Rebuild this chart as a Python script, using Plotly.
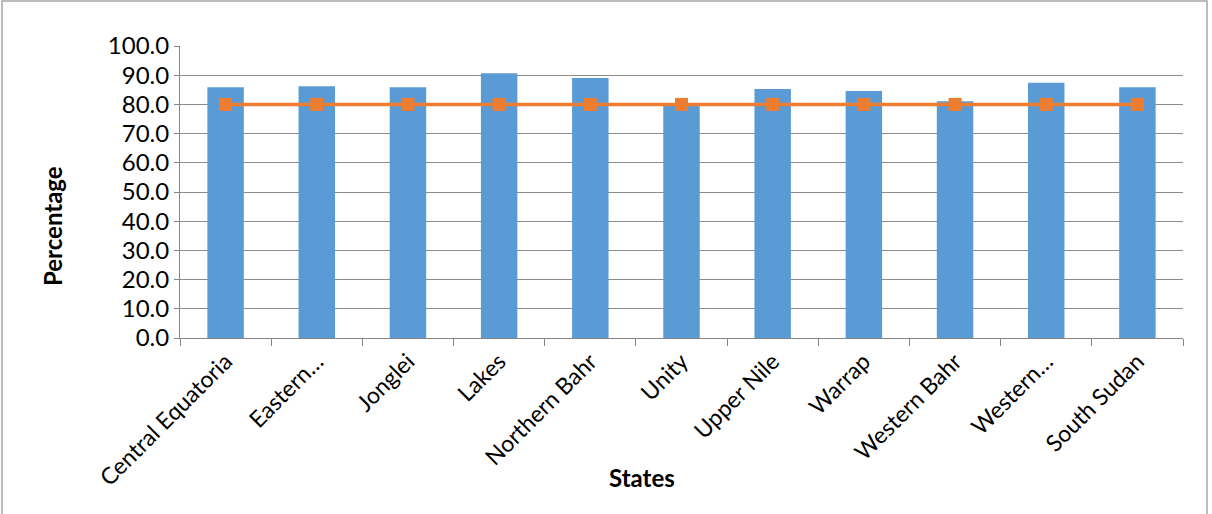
import plotly.graph_objects as go

# Share of population per state, with the 80% target line
states = ["Central Equatoria", "Eastern…", "Jonglei", "Lakes", "Northern Bahr", "Unity",
          "Upper Nile", "Warrap", "Western Bahr", "Western…", "South Sudan"]
percentage = [85.9, 86.2, 85.9, 90.7, 89.0, 79.6, 85.3, 84.6, 81.1, 87.4, 85.9]
target = [80.0] * len(states)
y_ticks = [0, 10, 20, 30, 40, 50, 60, 70, 80, 90, 100]

W, H = 1212, 514
L, R, T, B = 180, 29, 46, 176

font_family = "Lato, 'Open Sans', sans-serif"

fig = go.Figure()
fig.add_trace(go.Bar(x=states, y=percentage, width=0.4,
                     marker=dict(color="#5B9BD5", line=dict(width=0))))
fig.add_trace(go.Scatter(x=states, y=target, mode="lines+markers",
                         line=dict(color="#ED7D31", width=3.5),
                         marker=dict(symbol="square", size=13, color="#ED7D31")))

fig.update_layout(
    width=W, height=H,
    margin=dict(l=L, r=R, t=T, b=B),
    paper_bgcolor="white", plot_bgcolor="white",
    showlegend=False,
    font=dict(family=font_family, size=23, color="black"),
    bargap=0.6,
)
fig.update_xaxes(
    type="category", range=[-0.5, len(states) - 0.5],
    tickangle=-45, tickson="boundaries",
    ticks="outside", ticklen=7, tickcolor="#868686",
    showline=True, linecolor="#868686", linewidth=1,
    showgrid=False, tickfont=dict(size=23),
)
fig.update_yaxes(
    range=[0, 100], tickvals=y_ticks, ticktext=[f"{v:.1f}" for v in y_ticks],
    ticks="outside", ticklen=5, tickcolor="#868686",
    showline=True, linecolor="#868686", linewidth=1,
    showgrid=True, gridcolor="#8C8C8C", gridwidth=1,
    zeroline=False, tickfont=dict(size=24),
)

ph = H - T - B
pw = W - L - R
# axis titles
fig.add_annotation(text="<b>States</b>", xref="paper", yref="paper",
                   x=(642 - L) / pw, y=(H - B - 477) / ph,
                   showarrow=False, font=dict(size=24), xanchor="center", yanchor="middle")
fig.add_annotation(text="<b>Percentage</b>", xref="paper", yref="paper",
                   x=(52 - L) / pw, y=(H - B - 226) / ph, textangle=-90,
                   showarrow=False, font=dict(size=24), xanchor="center", yanchor="middle")
# chart border
fig.add_shape(type="rect", xref="paper", yref="paper",
              x0=(2 - L) / pw, x1=(1207 - L) / pw,
              y0=(H - B - 530) / ph, y1=(H - B - 1) / ph,
              line=dict(color="#A6A6A6", width=1.5), layer="below")

fig.write_html("out.html")
